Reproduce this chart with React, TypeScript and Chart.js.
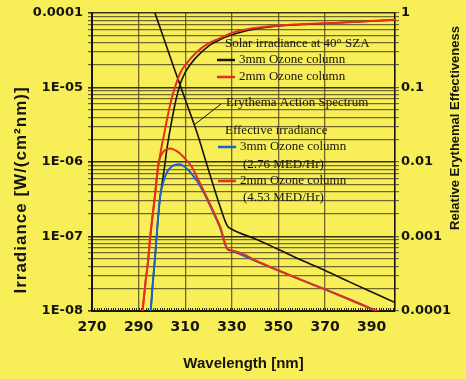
import React, { useEffect, useRef } from "react";
import { Chart, registerables } from "chart.js";

Chart.register(...registerables);

// ---------- Axis definitions ----------
const xMinNm = 270;
const xMaxNm = 400;
const xTickLabels = [270, 290, 310, 330, 350, 370, 390];
const xGridNm = [290, 310, 330, 350, 370];
const xMinorStepNm = 1;

const leftMajorTicks = [1e-8, 1e-7, 1e-6, 1e-5, 1e-4];
const leftTickLabels = ["1E-08", "1E-07", "1E-06", "1E-05", "0.0001"];
const rightMajorTicks = [1e-4, 1e-3, 1e-2, 1e-1, 1];
const rightTickLabels = ["0.0001", "0.001", "0.01", "0.1", "1"];
const minorMultipliers = [2, 3, 4, 5, 6, 7, 8, 9];

// ---------- Series ----------
// Solar irradiance at 40° SZA, 3mm ozone column (black), W/(cm² nm)
const solar3mmNm = [295.2, 296, 297, 298, 299, 300, 301, 302, 303, 304, 306, 308, 310, 312, 315, 320, 325, 330, 340, 350, 360, 370, 380, 390, 400];
const solar3mmIrr = [1e-8, 2.2e-8, 5e-8, 1.3e-7, 2.9e-7, 5e-7, 8e-7, 1.4e-6, 2.2e-6, 3.3e-6, 6.8e-6, 1.15e-5, 1.6e-5, 2e-5, 2.6e-5, 3.6e-5, 4.4e-5, 5.1e-5, 6.1e-5, 6.7e-5, 7.0e-5, 7.3e-5, 7.5e-5, 7.8e-5, 8.1e-5];

// Solar irradiance at 40° SZA, 2mm ozone column (red)
const solar2mmNm = [291.7, 293, 294, 295, 296, 297, 298, 298.5, 300, 301, 302, 304, 306, 308, 310, 315, 320, 325, 330, 340, 350, 360, 370, 380, 390, 400];
const solar2mmIrr = [1e-8, 2.5e-8, 4.5e-8, 1e-7, 1.9e-7, 3.5e-7, 7e-7, 9e-7, 1.7e-6, 2.4e-6, 3.5e-6, 6.8e-6, 1.1e-5, 1.6e-5, 2e-5, 3e-5, 3.9e-5, 4.6e-5, 5.4e-5, 6.3e-5, 6.8e-5, 7.1e-5, 7.3e-5, 7.5e-5, 7.8e-5, 8.1e-5];

// Erythema action spectrum (right axis, relative)
const erythemaNm = [297, 300, 305, 310, 315, 320, 325, 328, 330, 340, 350, 360, 370, 380, 390, 400];
const erythemaRel = [1, 0.54, 0.19, 0.069, 0.025, 0.0078, 0.0025, 0.0014, 0.00125, 0.00093, 0.00067, 0.00048, 0.00035, 0.00025, 0.00018, 0.00013];

// Effective irradiance, 3mm ozone column (blue)
const eff3mmNm = [295.2, 296, 297, 298, 299.2, 300, 301.3, 302.5, 304.2, 306, 307.8, 310, 312, 315, 318.5, 322, 325, 328, 330, 340, 350, 360, 370, 380, 390, 400];
const eff3mmIrr = [1e-8, 2.2e-8, 5e-8, 1.3e-7, 3.4e-7, 4.5e-7, 6.3e-7, 7.6e-7, 8.7e-7, 9.2e-7, 9.3e-7, 8.5e-7, 7.4e-7, 5.6e-7, 3.6e-7, 2.1e-7, 1.3e-7, 6.8e-8, 6.4e-8, 4.7e-8, 3.5e-8, 2.6e-8, 1.95e-8, 1.45e-8, 1.07e-8, 8e-9];

// Effective irradiance, 2mm ozone column (red)
const eff2mmNm = [291.7, 293, 294, 295, 296, 297, 298, 298.5, 300.6, 302, 303.7, 306, 308, 310, 312.7, 315, 319.2, 322, 325, 328, 330, 335, 340, 350, 360, 370, 380, 390, 400];
const eff2mmIrr = [1e-8, 2.5e-8, 4.5e-8, 1e-7, 1.9e-7, 3.5e-7, 7e-7, 9.5e-7, 1.37e-6, 1.48e-6, 1.52e-6, 1.42e-6, 1.28e-6, 1.1e-6, 8.7e-7, 6.3e-7, 3.4e-7, 2.2e-7, 1.35e-7, 6.9e-8, 6.5e-8, 5.8e-8, 4.8e-8, 3.5e-8, 2.6e-8, 1.95e-8, 1.45e-8, 1.07e-8, 8e-9];

// ---------- Styles ----------
const BG = "#f8ef58";
const RED = "#e3321c";
const BLUE = "#1d62d0";
const BLACK = "#161410";
const GRID_MINOR = "rgba(78,70,32,0.8)";
const GRID_MAJOR = "rgba(45,40,18,0.95)";
const SANS = "'Liberation Sans', Arial, sans-serif";
const TICKFONT = "'DejaVu Sans', sans-serif";
const SERIF = "'Liberation Serif', 'Times New Roman', serif";

const toPoints = (xs: number[], ys: number[]) => xs.map((x, i) => ({ x, y: ys[i] }));

const logTicks = (majors: number[]) => {
  const out: { value: number; major: boolean }[] = [];
  majors.forEach((m, i) => {
    out.push({ value: m, major: true });
    if (i < majors.length - 1) minorMultipliers.forEach((k) => out.push({ value: m * k, major: false }));
  });
  return out;
};

const labelFor = (majors: number[], labels: string[]) => (value: number) => {
  const i = majors.findIndex((m) => Math.abs(m - value) / m < 1e-6);
  return i >= 0 ? labels[i] : "";
};

const decorPlugin = {
  id: "decor",
  beforeDatasetsDraw(chart: any) {
    const { ctx, chartArea, scales } = chart;
    const xs = scales.x;
    ctx.save();
    ctx.strokeStyle = "#2a2615";
    ctx.lineWidth = 1;
    for (let nm = xMinNm + xMinorStepNm; nm < xMaxNm; nm += xMinorStepNm) {
      const px = Math.round(xs.getPixelForValue(nm)) + 0.5;
      ctx.beginPath();
      ctx.moveTo(px, chartArea.bottom);
      ctx.lineTo(px, chartArea.bottom - 3);
      ctx.stroke();
    }
    ctx.restore();
  },
  afterDatasetsDraw(chart: any) {
    const { ctx, chartArea } = chart;
    const L = chartArea.left;
    const T = chartArea.top;
    ctx.save();
    ctx.fillStyle = BLACK;
    ctx.font = `13px ${SERIF}`;
    ctx.textBaseline = "middle";
    ctx.textAlign = "left";
    const text = (s: string, dx: number, dy: number) => ctx.fillText(s, L + dx, T + dy);
    const dash = (color: string, dx: number, dy: number) => {
      ctx.strokeStyle = color;
      ctx.lineWidth = 2.5;
      ctx.beginPath();
      ctx.moveTo(L + dx, T + dy);
      ctx.lineTo(L + dx + 18, T + dy);
      ctx.stroke();
    };
    text("Solar irradiance at 40° SZA", 133, 31);
    dash(BLACK, 125, 47);
    text("3mm Ozone column", 147, 47);
    dash(RED, 125, 64);
    text("2mm Ozone column", 147, 64);
    text("Erythema Action Spectrum", 134, 90);
    ctx.strokeStyle = BLACK;
    ctx.lineWidth = 1;
    ctx.beginPath();
    ctx.moveTo(L + 129, T + 91);
    ctx.lineTo(L + 102, T + 112);
    ctx.stroke();
    text("Effective irradiance", 133, 118);
    dash(BLUE, 126, 134);
    text("3mm Ozone column", 148, 134);
    text("(2.76 MED/Hr)", 151, 152);
    dash(RED, 126, 168);
    text("2mm Ozone column", 148, 168);
    text("(4.53 MED/Hr)", 151, 185);
    ctx.restore();
  },
  afterDraw(chart: any) {
    const { ctx } = chart;
    const rot = (s: string, x: number, y: number, font: string, spacing: string) => {
      ctx.save();
      ctx.translate(x, y);
      ctx.rotate(-Math.PI / 2);
      ctx.font = font;
      (ctx as any).letterSpacing = spacing;
      ctx.fillStyle = BLACK;
      ctx.textAlign = "center";
      ctx.textBaseline = "middle";
      ctx.fillText(s, 0, 0);
      ctx.restore();
    };
    rot("Irradiance [W/(cm²nm)]", 21, 190, `bold 17px ${SANS}`, "1px");
    rot("Relative Erythemal Effectiveness", 455, 128, `bold 13px ${SANS}`, "0px");
  },
};

export default function App() {
  const ref = useRef<HTMLCanvasElement>(null);
  useEffect(() => {
    const canvas = ref.current;
    if (!canvas) return;
    const line = (label: string, data: any[], color: string, axis: string, width = 1.8) => ({
      label,
      data,
      borderColor: color,
      backgroundColor: color,
      borderWidth: width,
      pointRadius: 0,
      fill: false,
      yAxisID: axis,
      cubicInterpolationMode: "monotone" as const,
    });
    const chart = new Chart(canvas, {
      type: "line",
      data: {
        datasets: [
          line("Effective irradiance – 2mm Ozone column (4.53 MED/Hr)", toPoints(eff2mmNm, eff2mmIrr), RED, "y", 2),
          line("Effective irradiance – 3mm Ozone column (2.76 MED/Hr)", toPoints(eff3mmNm, eff3mmIrr), BLUE, "y", 2),
          line("Solar irradiance – 2mm Ozone column", toPoints(solar2mmNm, solar2mmIrr), RED, "y", 2),
          line("Solar irradiance – 3mm Ozone column", toPoints(solar3mmNm, solar3mmIrr), BLACK, "y", 1.6),
          line("Erythema Action Spectrum", toPoints(erythemaNm, erythemaRel), BLACK, "y1", 1.6),
        ],
      },
      options: {
        animation: false,
        responsive: false,
        devicePixelRatio: 1,
        parsing: true,
        layout: { padding: { top: 13, left: 0, right: 0, bottom: 0 } },
        plugins: { legend: { display: false }, tooltip: { enabled: false } },
        scales: {
          x: {
            type: "linear",
            position: "bottom",
            min: xMinNm,
            max: xMaxNm,
            afterBuildTicks: (s: any) => {
              s.ticks = xTickLabels.map((v) => ({ value: v }));
            },
            afterFit: (s: any) => {
              s.height = 68;
            },
            ticks: {
              autoSkip: false,
              maxRotation: 0,
              padding: 8,
              color: BLACK,
              font: { family: TICKFONT, weight: "bold", size: 14 },
              callback: (v: any) => String(v),
            },
            grid: {
              drawTicks: false,
              lineWidth: 1.3,
              color: (c: any) => (c.tick && xGridNm.includes(c.tick.value) ? GRID_MINOR : "rgba(0,0,0,0)"),
            },
            border: { color: BLACK, width: 2 },
            title: {
              display: true,
              text: "Wavelength [nm]",
              color: BLACK,
              font: { family: SANS, weight: "bold", size: 15 },
              padding: { top: 0, bottom: 6 },
            },
          },
          y: {
            type: "logarithmic",
            position: "left",
            min: leftMajorTicks[0],
            max: leftMajorTicks[leftMajorTicks.length - 1],
            afterBuildTicks: (s: any) => {
              s.ticks = logTicks(leftMajorTicks);
            },
            afterFit: (s: any) => {
              s.width = 92;
            },
            ticks: {
              autoSkip: false,
              padding: 5,
              color: BLACK,
              font: { family: TICKFONT, weight: "bold", size: 13 },
              callback: (v: any) => labelFor(leftMajorTicks, leftTickLabels)(Number(v)),
            },
            grid: {
              drawTicks: true,
              tickLength: 4,
              lineWidth: (c: any) => (c.tick && c.tick.major ? 1.6 : 1.2),
              color: (c: any) => (c.tick && c.tick.major ? GRID_MAJOR : GRID_MINOR),
            },
            border: { color: BLACK, width: 2 },
          },
          y1: {
            type: "logarithmic",
            position: "right",
            min: rightMajorTicks[0],
            max: rightMajorTicks[rightMajorTicks.length - 1],
            afterBuildTicks: (s: any) => {
              s.ticks = logTicks(rightMajorTicks);
            },
            afterFit: (s: any) => {
              s.width = 71;
            },
            ticks: {
              autoSkip: false,
              padding: 2,
              color: BLACK,
              font: { family: TICKFONT, weight: "bold", size: 13 },
              callback: (v: any) => labelFor(rightMajorTicks, rightTickLabels)(Number(v)),
            },
            grid: {
              drawOnChartArea: false,
              drawTicks: true,
              tickLength: 4,
              lineWidth: 1.2,
              color: GRID_MINOR,
            },
            border: { color: BLACK, width: 1.6 },
          },
        },
      } as any,
      plugins: [decorPlugin],
    });
    return () => chart.destroy();
  }, []);

  return (
    <div style={{ position: "fixed", left: 0, top: 0, width: 466, height: 379, background: BG }}>
      <canvas ref={ref} width={466} height={379} style={{ display: "block", width: 466, height: 379 }} />
    </div>
  );
}
